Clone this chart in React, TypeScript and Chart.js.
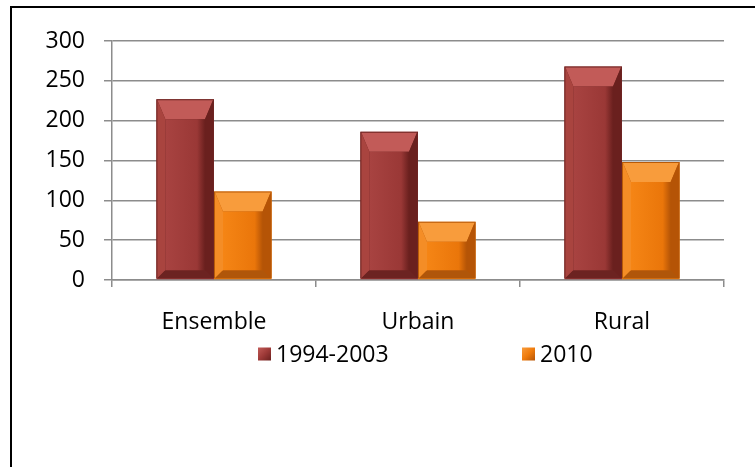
import React, { useEffect, useRef } from "react";
import { Chart, registerables } from "chart.js";

Chart.register(...registerables);

const categories = ["Ensemble", "Urbain", "Rural"];
const seriesNames = ["1994-2003", "2010"];
const values1994 = [227, 186, 268];
const values2010 = [111, 73, 148];
const yTicks = [0, 50, 100, 150, 200, 250, 300];

const FONT = "'Open Sans', 'Liberation Sans', sans-serif";
const FONT_SIZE = 23;

type Palette = { base: string; edge: string; top: string; left: string; right: string; bottom: string; faceA: string; faceB: string };
const palettes: Palette[] = [
  { base: "#9e3a38", edge: "#6e2422", top: "#c25b58", left: "#a9443f", right: "#6a201e", bottom: "#6c2321", faceA: "#a84341", faceB: "#9a3836" },
  { base: "#f07c0c", edge: "#b85a08", top: "#f89c3c", left: "#f48d26", right: "#b55406", bottom: "#b0560a", faceA: "#f58515", faceB: "#ea760a" },
];

const bevelPlugin = {
  id: "bevel",
  afterDatasetsDraw(chart: any) {
    const ctx = chart.ctx;
    chart.data.datasets.forEach((ds: any, di: number) => {
      const meta = chart.getDatasetMeta(di);
      const p = palettes[di];
      meta.data.forEach((bar: any) => {
        const { x, y, base, width } = bar.getProps(["x", "y", "base", "width"], true);
        const l = x - width / 2;
        const r = x + width / 2;
        const t = Math.min(y, base);
        const b = Math.max(y, base) - 1;
        const h = b - t;
        const s = Math.min(8, width / 4);
        const st = Math.min(19, h / 3);
        const sb = Math.min(8, h / 5);
        ctx.save();
        const poly = (pts: number[][], color: any) => {
          ctx.beginPath();
          ctx.moveTo(pts[0][0], pts[0][1]);
          for (let i = 1; i < pts.length; i++) ctx.lineTo(pts[i][0], pts[i][1]);
          ctx.closePath();
          ctx.fillStyle = color;
          ctx.fill();
        };
        poly([[l, t], [r, t], [r, b], [l, b]], p.edge);
        const L = l + 1, R = r - 1, T = t + 1, B = b;
        poly([[L, T], [R, T], [R - s, T + st], [L + s, T + st]], p.top);
        poly([[L, T], [L + s, T + st], [L + s, B - sb], [L, B]], p.left);
        poly([[R, T], [R, B], [R - s, B - sb], [R - s, T + st]], p.right);
        poly([[L, B], [R, B], [R - s, B - sb], [L + s, B - sb]], p.bottom);
        const g = ctx.createLinearGradient(L + s, 0, R - s, 0);
        g.addColorStop(0, p.faceA);
        g.addColorStop(0.8, p.faceB);
        g.addColorStop(1, p.right);
        poly([[L + s, T + st], [R - s, T + st], [R - s, B - sb], [L + s, B - sb]], g);
        ctx.restore();
      });
    });
  },
};

const legendPlugin = {
  id: "customLegend",
  afterDraw(chart: any) {
    const ctx = chart.ctx;
    const itemX = [258, 522];
    const cy = 354;
    const box = 13;
    ctx.save();
    ctx.font = `${FONT_SIZE}px ${FONT}`;
    ctx.textBaseline = "middle";
    ctx.textAlign = "left";
    chart.data.datasets.forEach((ds: any, i: number) => {
      const p = palettes[i];
      const x0 = itemX[i];
      const y0 = cy - box / 2;
      const g = ctx.createLinearGradient(x0, y0, x0 + box, y0 + box);
      g.addColorStop(0, p.top);
      g.addColorStop(0.5, p.base);
      g.addColorStop(1, p.right);
      ctx.fillStyle = g;
      ctx.fillRect(x0, y0, box, box);
      ctx.fillStyle = "#000";
      ctx.fillText(ds.label, x0 + box + 5, cy + 1);
    });
    ctx.restore();
  },
};

export default function App() {
  const ref = useRef<HTMLCanvasElement>(null);
  useEffect(() => {
    if (!ref.current) return;
    const chart = new Chart(ref.current, {
      type: "bar",
      data: {
        labels: categories,
        datasets: [
          { label: seriesNames[0], data: values1994, backgroundColor: palettes[0].base, barPercentage: 1, categoryPercentage: 0.565 },
          { label: seriesNames[1], data: values2010, backgroundColor: palettes[1].base, barPercentage: 1, categoryPercentage: 0.565 },
        ],
      },
      options: {
        animation: false,
        responsive: false,
        layout: { padding: { left: 10, top: 41, right: 31, bottom: 127 } },
        plugins: { legend: { display: false }, tooltip: { enabled: false } },
        scales: {
          x: {
            grid: { offset: true, drawOnChartArea: false, drawTicks: true, tickLength: 7, color: "#8c8c8c", lineWidth: 1.5 },
            border: { display: true, color: "#8c8c8c", width: 1.5 },
            ticks: { font: { family: FONT, size: FONT_SIZE }, color: "#000", padding: 22 },
            afterFit: (s: any) => { s.height = 60; },
          },
          y: {
            min: 0,
            max: 300,
            afterBuildTicks: (s: any) => { s.ticks = yTicks.map((v) => ({ value: v })); },
            grid: { color: "#8c8c8c", lineWidth: 1.5, tickLength: 8 },
            border: { display: true, color: "#8c8c8c", width: 1.5 },
            ticks: { font: { family: FONT, size: FONT_SIZE }, color: "#000", padding: 19 },
            afterFit: (s: any) => { s.width = 102; },
          },
        },
      },
      plugins: [bevelPlugin, legendPlugin],
    });
    return () => chart.destroy();
  }, []);
  return (
    <div style={{ position: "fixed", left: 0, top: 0, width: 755, height: 467, overflow: "hidden", background: "#fff" }}>
      <canvas ref={ref} width={755} height={467} style={{ display: "block" }} />
      <div style={{ position: "absolute", left: 10, top: 6, width: 800, height: 500, borderLeft: "2px solid #000", borderTop: "2px solid #000", pointerEvents: "none" }} />
    </div>
  );
}
